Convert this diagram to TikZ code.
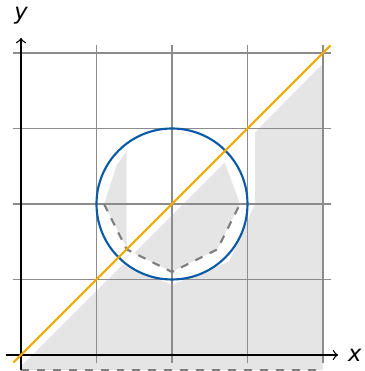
\documentclass[tikz,border=0pt]{standalone}
\usepackage{fontspec}
\newfontfamily\lblfont{DejaVu Sans}
\definecolor{regiongray}{HTML}{E5E5E5}
\definecolor{circblue}{HTML}{0B5AA6}
\definecolor{diagorange}{HTML}{F2A900}
\definecolor{gridgray}{HTML}{8C8C8C}
\definecolor{dashgray}{HTML}{7F7F7F}
\tikzset{
  region/.style={fill=regiongray},
  gridline/.style={draw=gridgray, line width=0.45pt},
  axisline/.style={draw=black, line width=0.5pt, ->},
  dashedge/.style={draw=dashgray, line width=0.8pt, dashed},
  ballline/.style={draw=circblue, line width=0.8pt},
  diagline/.style={draw=diagorange, line width=0.8pt},
  axislabel/.style={font=\lblfont\itshape\fontsize{8.5}{10}\selectfont, inner sep=0pt}
}
\begin{document}
\begin{tikzpicture}[x=1cm,y=1cm]
\useasboundingbox (-0.278,-0.212) rectangle (4.556,4.702);
% gray pieces
\fill[region] (0,-0.2) -- (4,-0.2) -- (4,3.86) -- (3.1,2.95) -- (3.1,2.0)
  -- (2.76,1.24) -- (2.0,0.93) -- (1.35,1.20) -- (0,-0.15) -- cycle;
\fill[region] (1.5,1.35) -- (2.0,1.1) -- (2.6,1.4) -- (2.9,2.0) -- (2.70,2.55) -- cycle;
\fill[region] (1.1,2.0) -- (1.40,1.42) -- (1.40,2.70) -- (1.27,2.52) -- cycle;
% grid
\draw[gridline] (-0.1,-0.1) grid (4.1,4.1);
% dashed edges
\draw[dashedge] (0,-0.2) -- (4,-0.2);
\draw[dashedge] (1.1,2.0) -- (1.40,1.40) -- (2.0,1.1) -- (2.6,1.4) -- (2.9,2.0);
% axes
\draw[axisline] (-0.2,0) -- (4.2,0);
\draw[axisline] (0,-0.2) -- (0,4.2);
% circle and diagonal
\draw[ballline] (2,2) circle (1);
\draw[diagline] (-0.1,-0.1) -- (4.1,4.1);
% labels
\node[axislabel] (xlabel) at (4.42,0) {x};
\node[axislabel] (ylabel) at (0,4.49) {y};
\end{tikzpicture}
\end{document}
